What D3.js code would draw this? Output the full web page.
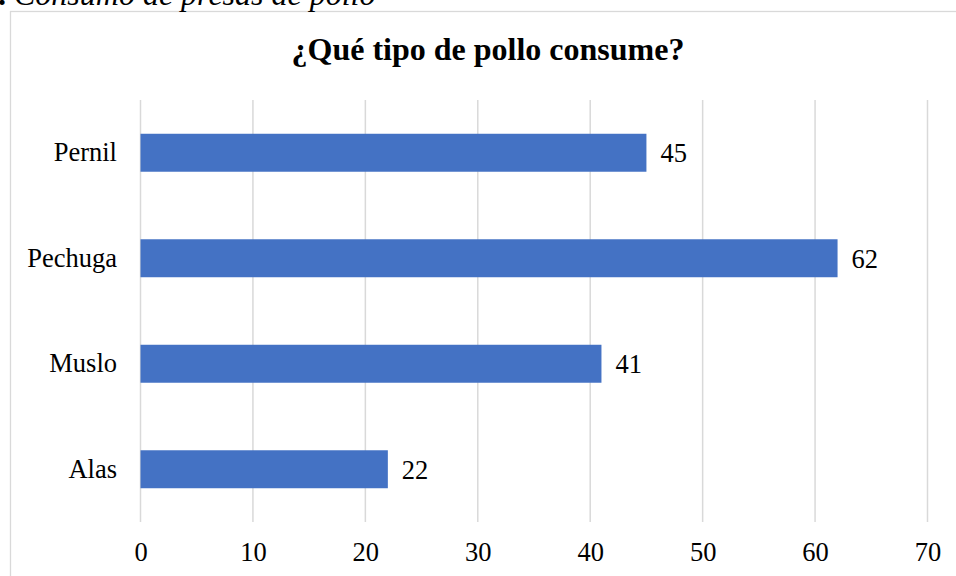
<!DOCTYPE html>
<html>
<head>
<meta charset="utf-8">
<script src="https://cdn.jsdelivr.net/npm/d3@7"></script>
<style>
  html, body { margin: 0; padding: 0; background: #fff; }
  svg { display: block; }
</style>
</head>
<body>
<svg id="chart" width="956" height="576"></svg>
<script>
// Chart data
const categories = ["Pernil", "Pechuga", "Muslo", "Alas"];
const values = [45, 62, 41, 22];
const xTicks = [0, 10, 20, 30, 40, 50, 60, 70];
const chartTitle = "¿Qué tipo de pollo consume?";
const captionPrefix = "Figura 1.";
const captionText = " Consumo de presas de pollo";

const svg = d3.select("#chart");
const serif = "'Liberation Serif', 'Times New Roman', serif";
const labelSize = 26.5;

// Chart frame
svg.append("rect")
  .attr("x", 10.5).attr("y", 11.5)
  .attr("width", 1000).attr("height", 700)
  .attr("fill", "#fff")
  .attr("stroke", "#d9d9d9").attr("stroke-width", 1.3);

// Caption above the frame
const cap = svg.append("text")
  .attr("y", 5)
  .attr("font-family", serif)
  .attr("font-size", 32)
  .attr("fill", "#000");
cap.append("tspan").attr("font-weight", "bold").text(captionPrefix);
cap.append("tspan").attr("font-style", "italic").text(captionText);
// shift so the period sits at the left edge
const prefixW = cap.select("tspan").node().getComputedTextLength();
cap.attr("x", 6 - prefixW);

// Title
svg.append("text")
  .attr("x", 488).attr("y", 60)
  .attr("text-anchor", "middle")
  .attr("font-family", serif)
  .attr("font-size", 32)
  .attr("font-weight", "bold")
  .attr("fill", "#000")
  .text(chartTitle);

const plot = { left: 140.5, right: 927.5, top: 100, bottom: 522 };

const x = d3.scaleLinear().domain([0, 70]).range([plot.left, plot.right]);
const y = d3.scaleBand().domain(categories)
  .range([plot.top, plot.bottom])
  .paddingInner(0.64).paddingOuter(0.32);

// Vertical gridlines
svg.append("g").selectAll("line").data(xTicks).join("line")
  .attr("x1", d => x(d)).attr("x2", d => x(d))
  .attr("y1", plot.top).attr("y2", plot.bottom)
  .attr("stroke", "#d9d9d9").attr("stroke-width", 1.5);

// X axis labels
const xAxis = d3.axisBottom(x).tickValues(xTicks).tickSize(0).tickPadding(0);
const gx = svg.append("g")
  .attr("transform", `translate(0,552)`)
  .call(xAxis);
gx.select(".domain").remove();
gx.selectAll("text")
  .attr("font-family", serif).attr("font-size", labelSize).attr("fill", "#000")
  .attr("dy", "0.35em");

// Y axis labels
const yAxis = d3.axisLeft(y).tickSize(0).tickPadding(0);
const gy = svg.append("g")
  .attr("transform", `translate(117,0)`)
  .call(yAxis);
gy.select(".domain").remove();
gy.selectAll("text")
  .attr("font-family", serif).attr("font-size", labelSize).attr("fill", "#000");

// Bars
const data = categories.map((c, i) => ({ c, v: values[i] }));
svg.append("g").selectAll("rect").data(data).join("rect")
  .attr("x", x(0))
  .attr("y", d => y(d.c))
  .attr("width", d => x(d.v) - x(0))
  .attr("height", y.bandwidth())
  .attr("fill", "#4472c4");

// Value labels
svg.append("g").selectAll("text").data(data).join("text")
  .attr("x", d => x(d.v) + 14)
  .attr("y", d => y(d.c) + y.bandwidth() / 2)
  .attr("dy", "0.35em")
  .attr("font-family", serif).attr("font-size", labelSize).attr("fill", "#000")
  .text(d => d.v);
</script>
</body>
</html>
